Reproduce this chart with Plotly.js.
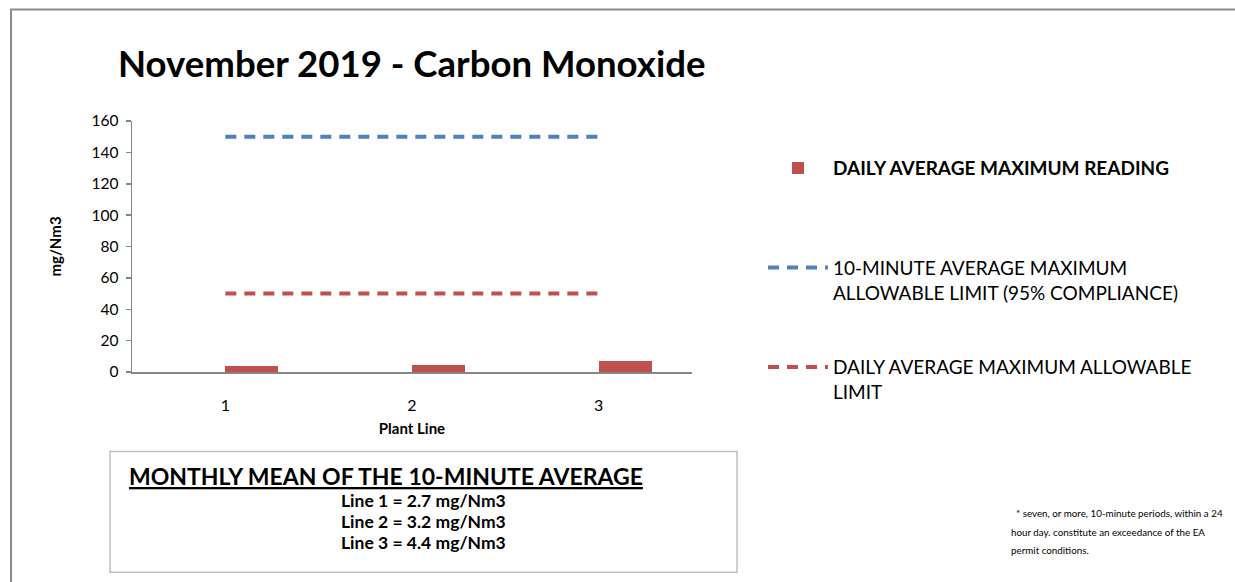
<!DOCTYPE html>
<html>
<head>
<meta charset="utf-8">
<script src="https://cdn.plot.ly/plotly-3.0.1.min.js"></script>
<style>
  html, body { margin: 0; padding: 0; background: #ffffff; overflow: hidden; }
  #chart { width: 1235px; height: 582px; }
</style>
</head>
<body>
<div id="chart"></div>
<script>
// ---- data ----
const plantLines = [1, 2, 3];
const tickLabels = ["1", "2", "3"];
const dailyAverageMax = [3.8, 4.5, 6.8];
const tenMinuteLimit = [150, 150, 150];
const dailyAverageLimit = [50, 50, 50];
const monthlyMean = [2.7, 3.2, 4.4];
const yTicks = [0, 20, 40, 60, 80, 100, 120, 140, 160];

const seriesNames = [
  "<b>DAILY AVERAGE MAXIMUM READING</b><br>&nbsp;",
  "10-MINUTE AVERAGE MAXIMUM<br>ALLOWABLE LIMIT (95% COMPLIANCE)",
  "DAILY AVERAGE MAXIMUM ALLOWABLE<br>LIMIT"
];
const footnoteLines = [
  "* seven, or more, 10-minute periods, within a 24",
  "hour day. constitute an exceedance of the EA",
  "permit conditions."
];

const FONT = "Lato, 'Open Sans', sans-serif";
const RED = "#C0504D";
const BLUE = "#4F81BD";
const AXIS = "#868686";

// plot area in pixels
const L = 132, R = 692, T = 120.7, B = 372.3;
const W = 1235, H = 582;
const px2x = p => (p - L) / (R - L);
const py2y = p => (B - p) / (B - T);

const traces = [
  {
    type: "bar", x: plantLines, y: dailyAverageMax, name: seriesNames[0],
    marker: { color: RED }, offset: 0, width: 0.284,
    legendgroup: "a", hoverinfo: "x+y"
  },
  {
    type: "scatter", mode: "lines", x: plantLines, y: tenMinuteLimit, name: seriesNames[1],
    line: { color: BLUE, width: 4, dash: "11px,8px" }, legendgroup: "b"
  },
  {
    type: "scatter", mode: "lines", x: plantLines, y: dailyAverageLimit, name: seriesNames[2],
    line: { color: RED, width: 4, dash: "11px,8px" }, legendgroup: "c"
  }
];

const boxLines = monthlyMean.map((v, i) => "<b>Line " + plantLines[i] + " = " + v.toFixed(1) + " mg/Nm3</b>");
const boxY = [501.5, 522.5, 543.5];
const footY = [514, 533, 551];

const annotations = [
  {
    text: "<b>November 2019 - Carbon Monoxide</b>", xref: "paper", yref: "paper",
    x: px2x(116), y: py2y(63), xanchor: "left", yanchor: "middle", showarrow: false,
    font: { family: FONT, size: 36.6, color: "#000" }
  },
  {
    text: "<b><u>MONTHLY MEAN OF THE 10-MINUTE AVERAGE</u></b>", xref: "paper", yref: "paper",
    x: px2x(127), y: py2y(477), xanchor: "left", yanchor: "middle", showarrow: false,
    font: { family: FONT, size: 23, color: "#000" }
  }
].concat(boxLines.map((t, i) => ({
  text: t, xref: "paper", yref: "paper", x: px2x(423), y: py2y(boxY[i]),
  xanchor: "center", yanchor: "middle", showarrow: false,
  font: { family: FONT, size: 17.5, color: "#000" }
}))).concat(footnoteLines.map((t, i) => ({
  text: t, xref: "paper", yref: "paper", x: px2x(i === 0 ? 1014 : 1009), y: py2y(footY[i]),
  xanchor: "left", yanchor: "middle", showarrow: false,
  font: { family: FONT, size: 9.8, color: "#000" }
})));

const layout = {
  width: W, height: H,
  margin: { l: L, r: W - R, t: T, b: H - B, pad: 0 },
  paper_bgcolor: "#ffffff", plot_bgcolor: "#ffffff",
  font: { family: FONT, color: "#000" },
  showlegend: true,
  bargap: 0,
  xaxis: {
    range: [0.5, 3.5], tickvals: plantLines, ticktext: tickLabels,
    showgrid: false, zeroline: false, showline: true, linecolor: AXIS, linewidth: 2,
    ticks: "", ticklabelstandoff: 18, tickfont: { family: FONT, size: 16, color: "#000" },
    title: { text: "<b>Plant Line</b>", font: { family: FONT, size: 15, color: "#000" }, standoff: 10 },
    fixedrange: true, automargin: false
  },
  yaxis: {
    range: [0, 160], tickvals: yTicks,
    showgrid: false, zeroline: false, showline: true, linecolor: AXIS, linewidth: 1.5,
    ticks: "outside", ticklen: 5, tickcolor: AXIS, tickwidth: 1.5, ticklabelstandoff: 4,
    tickfont: { family: FONT, size: 15.5, color: "#000" },
    title: { text: "<b>mg/Nm3</b>", font: { family: FONT, size: 15, color: "#000" }, standoff: 26 },
    fixedrange: true, automargin: false
  },
  legend: {
    x: px2x(763), y: py2y(149), xanchor: "left", yanchor: "top",
    traceorder: "grouped", tracegroupgap: 47, valign: "top", itemwidth: 60,
    font: { family: FONT, size: 19, color: "#000" }, bgcolor: "rgba(0,0,0,0)"
  },
  shapes: [
    {
      type: "rect", xref: "paper", yref: "paper", layer: "below",
      x0: px2x(110), x1: px2x(737), y0: py2y(573), y1: py2y(452),
      line: { color: "#BFBFBF", width: 1.5 }
    },
    {
      type: "rect", xref: "paper", yref: "paper", layer: "below",
      x0: px2x(11), x1: px2x(1300), y0: py2y(700), y1: py2y(9),
      line: { color: "#8C8C8C", width: 2 }
    }
  ],
  annotations: annotations
};

Plotly.newPlot("chart", traces, layout, { displayModeBar: false, staticPlot: true });
</script>
</body>
</html>
